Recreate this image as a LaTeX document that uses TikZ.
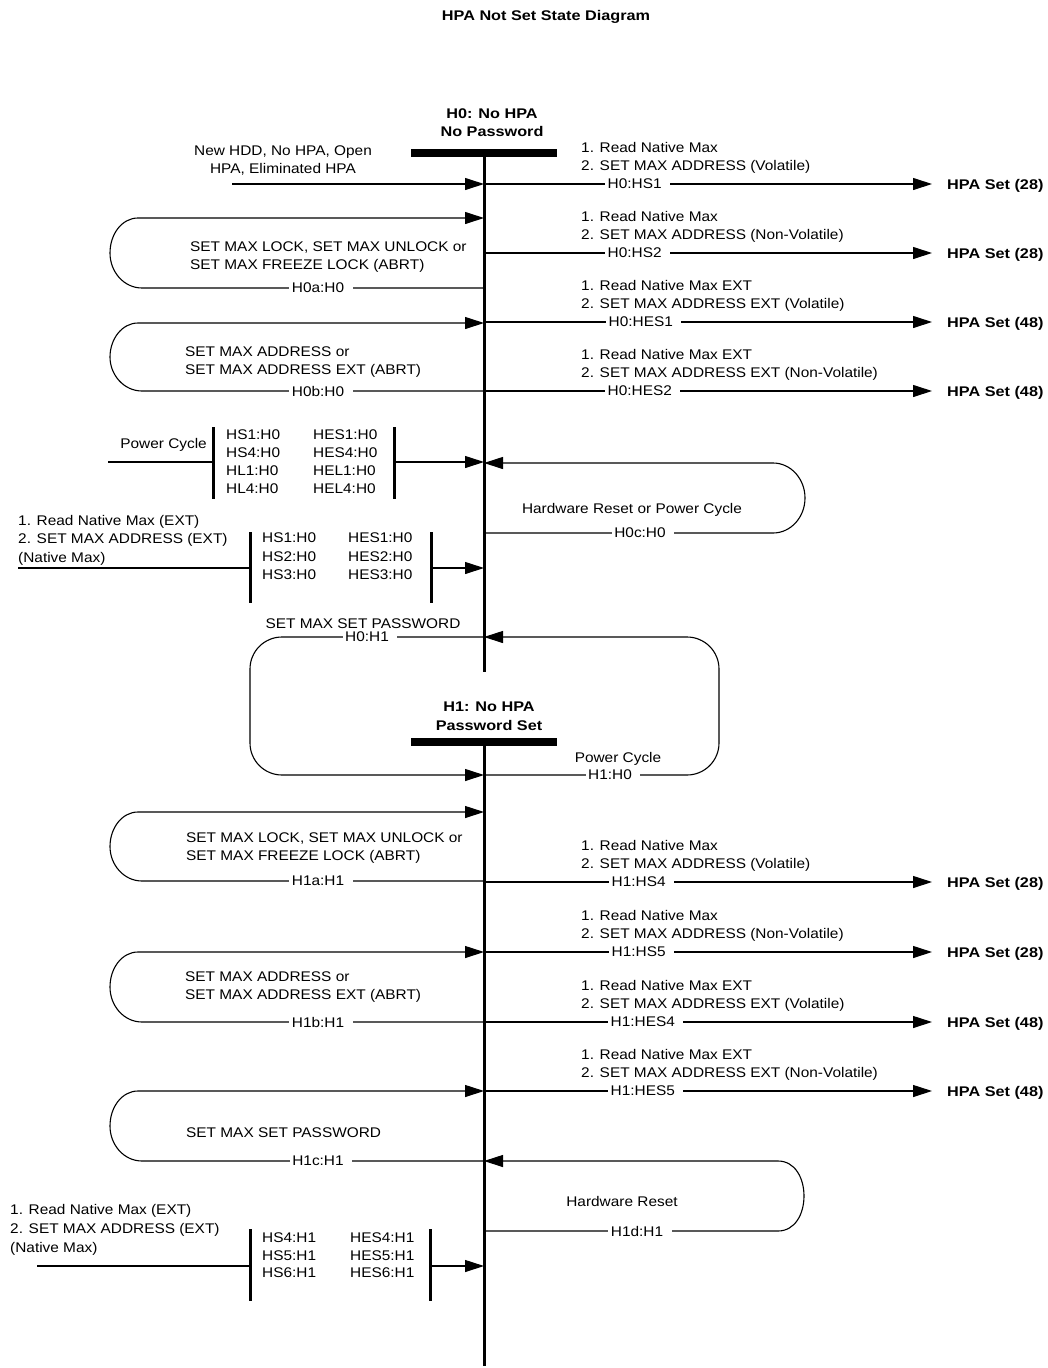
\documentclass[tikz,border=0pt]{standalone}
\usepackage{fontspec}
\setmainfont{Liberation Sans}[FakeStretch=1.1]
\newfontfamily\boldfam{Liberation Sans}[FakeStretch=1.16]
\usetikzlibrary{arrows.meta}
\tikzset{
  txt/.style={font=\fontsize{14}{18}\selectfont, inner sep=0pt},
  bld/.style={font=\boldfam\bfseries\fontsize{14}{18}\selectfont, inner sep=0pt},
  lbl/.style={font=\fontsize{14}{18}\selectfont, fill=white, inner xsep=2.5pt, inner ysep=1pt},
  conn/.style={line width=1.1pt},
  arr/.style={conn, -{Triangle[length=19pt,width=12pt]}},
  mainln/.style={line width=3pt},
  barln/.style={line width=3pt},
  statebar/.style={fill=black, minimum width=146pt, minimum height=8pt, inner sep=0pt},
}
\newcommand{\tgap}{\kern6pt\relax}
\begin{document}
\begin{tikzpicture}[x=1pt,y=-1pt]
\useasboundingbox (0,0) rectangle (1048,1368);

% title
\node[bld, anchor=base] (title) at (546,20) {HPA Not Set State Diagram};

% states
\node[statebar] (h0) at (484,153) {};
\node[bld, align=center, anchor=north] (h0lab) at (492,109) {H0: No HPA\\No Password};
\coordinate (h0end) at (484,672);
\draw[mainln] (h0.south) -- (h0end);

\node[statebar] (h1) at (484,742) {};
\node[bld, align=center, anchor=north] (h1lab) at (489,702) {H1: No HPA\\[1pt]Password Set};
\coordinate (h1end) at (484,1366);
\draw[mainln] (h1.south) -- (h1end);

% incoming
\node[txt, align=center, anchor=north] (newt) at (283,146) {New HDD, No HPA, Open\\HPA, Eliminated HPA};
\coordinate (in0) at (232,184);
\coordinate (m184) at (484,184);
\draw[arr] (in0) -- (m184);

% right side transitions
\foreach \y/\n/\a/\b/\l/\h/\lx in {
  184/ra/{1. Read Native Max}/{2. SET MAX ADDRESS (Volatile)}/{H0:HS1}/{HPA Set (28)}/605,
  253/rb/{1. Read Native Max}/{2. SET MAX ADDRESS (Non-Volatile)}/{H0:HS2}/{HPA Set (28)}/605,
  322/rc/{1. Read Native Max EXT}/{2. SET MAX ADDRESS EXT (Volatile)}/{H0:HES1}/{HPA Set (48)}/606,
  391/rd/{1. Read Native Max EXT}/{2. SET MAX ADDRESS EXT (Non-Volatile)}/{H0:HES2}/{HPA Set (48)}/605,
  882/re/{1. Read Native Max}/{2. SET MAX ADDRESS (Volatile)}/{H1:HS4}/{HPA Set (28)}/609,
  952/rf/{1. Read Native Max}/{2. SET MAX ADDRESS (Non-Volatile)}/{H1:HS5}/{HPA Set (28)}/609,
  1022/rg/{1. Read Native Max EXT}/{2. SET MAX ADDRESS EXT (Volatile)}/{H1:HES4}/{HPA Set (48)}/608,
  1091/rh/{1. Read Native Max EXT}/{2. SET MAX ADDRESS EXT (Non-Volatile)}/{H1:HES5}/{HPA Set (48)}/608}
{
  \coordinate (\n s) at (484,\y);
  \coordinate (\n e) at (932,\y);
  \node[txt, anchor=north west, align=left] (\n t) at (581,\y-42) {\a\\\b};
  \draw[arr] (\n s) -- (\n e);
  \node[lbl, anchor=west] (\n l) at (\lx,\y) {\l\tgap};
  \node[bld, anchor=west] (\n h) at (947,\y+1.5) {\h};
}

% left self loops
\foreach \t/\bb/\n/\tx/\ty/\txt/\l in {
  218/288/la/190/242/{SET MAX LOCK, SET MAX UNLOCK or\\SET MAX FREEZE LOCK (ABRT)}/{H0a:H0},
  323/391/lb/185/347/{SET MAX ADDRESS or\\SET MAX ADDRESS EXT (ABRT)}/{H0b:H0},
  812/881/lc/186/833/{SET MAX LOCK, SET MAX UNLOCK or\\SET MAX FREEZE LOCK (ABRT)}/{H1a:H1},
  952/1022/ld/185/972/{SET MAX ADDRESS or\\SET MAX ADDRESS EXT (ABRT)}/{H1b:H1},
  1091/1161/le/186/1128/{SET MAX SET PASSWORD}/{H1c:H1}}
{
  \coordinate (\n a) at (484,\bb);
  \coordinate (\n b) at (484,\t);
  \draw[arr] (\n a) -- (142,\bb) .. controls (124,\bb) and (110,\bb-16) .. (110,{(\t+\bb)/2})
     .. controls (110,\t+16) and (122,\t) .. (138,\t) -- (\n b);
  \node[txt, anchor=north west, align=left] (\n t) at (\tx,\ty) {\txt};
  \node[lbl] (\n l) at (321,\bb) {\l\tgap};
}

% right self loops
\coordinate (c0a) at (484,533);
\coordinate (c0b) at (484,463);
\draw[arr] (c0a) -- (773,533) .. controls (791,533) and (805,517) .. (805,498)
   .. controls (805,479) and (791,463) .. (773,463) -- (c0b);
\node[txt, anchor=base] (c0t) at (632,513) {Hardware Reset or Power Cycle};
\node[lbl] (c0l) at (643,533) {H0c:H0\tgap};

\coordinate (c1a) at (484,1231);
\coordinate (c1b) at (484,1161);
\draw[arr] (c1a) -- (778,1231) .. controls (795,1231) and (804,1214) .. (804,1196)
   .. controls (804,1178) and (795,1161) .. (778,1161) -- (c1b);
\node[txt, anchor=base] (c1t) at (622,1206) {Hardware Reset};
\node[lbl] (c1l) at (640,1231) {H1d:H1\tgap};

% H0 <-> H1 loop
\coordinate (pa) at (484,637);
\coordinate (pb) at (484,775);
\draw[arr, rounded corners=32pt] (pa) -- (250,637) -- (250,775) -- (pb);
\draw[arr, rounded corners=32pt] (pb) -- (719,775) -- (719,637) -- (pa);
\node[txt, anchor=base] (pat) at (363,628) {SET MAX SET PASSWORD};
\node[lbl] (pal) at (370,637) {H0:H1\tgap};
\node[txt, anchor=base] (pbt) at (618,762) {Power Cycle};
\node[lbl] (pbl) at (613,775) {H1:H0\tgap};

% power cycle block
\node[txt, anchor=base east] (pct) at (207,448) {Power Cycle};
\coordinate (pcs) at (108,462);
\coordinate (pcb1t) at (213,427);
\coordinate (pcb1b) at (213,499);
\coordinate (pcb1) at (213,462);
\coordinate (pcb2t) at (394,427);
\coordinate (pcb2b) at (394,499);
\coordinate (pcb2) at (394,462);
\coordinate (m462) at (484,462);
\draw[barln] (pcb1t) -- (pcb1b);
\draw[barln] (pcb2t) -- (pcb2b);
\draw[conn] (pcs) -- (pcb1);
\draw[arr] (pcb2) -- (m462);
\node[txt, anchor=north west, align=left, font=\fontsize{14}{17.7}\selectfont] (pcc1) at (226,430) {HS1:H0\\HS4:H0\\HL1:H0\\HL4:H0};
\node[txt, anchor=north west, align=left, font=\fontsize{14}{17.7}\selectfont] (pcc2) at (313,430) {HES1:H0\\HES4:H0\\HEL1:H0\\HEL4:H0};

% native max block H0
\node[txt, anchor=north west, align=left, font=\fontsize{14}{18.5}\selectfont] (nm0t) at (18,515) {1. Read Native Max (EXT)\\2. SET MAX ADDRESS (EXT)\\(Native Max)};
\coordinate (nm0s) at (18,568);
\coordinate (nm0b1t) at (250,532);
\coordinate (nm0b1b) at (250,603);
\coordinate (nm0b1) at (250,568);
\coordinate (nm0b2t) at (431,532);
\coordinate (nm0b2b) at (431,603);
\coordinate (nm0b2) at (431,568);
\coordinate (m568) at (484,568);
\draw[barln] (nm0b1t) -- (nm0b1b);
\draw[barln] (nm0b2t) -- (nm0b2b);
\draw[conn] (nm0s) -- (nm0b1);
\draw[arr] (nm0b2) -- (m568);
\node[txt, anchor=north west, align=left, font=\fontsize{14}{18.5}\selectfont] (nm0c1) at (262,533) {HS1:H0\\HS2:H0\\HS3:H0};
\node[txt, anchor=north west, align=left, font=\fontsize{14}{18.5}\selectfont] (nm0c2) at (348,533) {HES1:H0\\HES2:H0\\HES3:H0};

% native max block H1
\node[txt, anchor=north west, align=left, font=\fontsize{14}{19}\selectfont] (nm1t) at (10,1204) {1. Read Native Max (EXT)\\2. SET MAX ADDRESS (EXT)\\(Native Max)};
\coordinate (nm1s) at (37,1266);
\coordinate (nm1b1t) at (250,1229);
\coordinate (nm1b1b) at (250,1301);
\coordinate (nm1b1) at (250,1266);
\coordinate (nm1b2t) at (430,1229);
\coordinate (nm1b2b) at (430,1301);
\coordinate (nm1b2) at (430,1266);
\coordinate (m1266) at (484,1266);
\draw[barln] (nm1b1t) -- (nm1b1b);
\draw[barln] (nm1b2t) -- (nm1b2b);
\draw[conn] (nm1s) -- (nm1b1);
\draw[arr] (nm1b2) -- (m1266);
\node[txt, anchor=north west, align=left, font=\fontsize{14}{17.5}\selectfont] (nm1c1) at (262,1233) {HS4:H1\\HS5:H1\\HS6:H1};
\node[txt, anchor=north west, align=left, font=\fontsize{14}{17.5}\selectfont] (nm1c2) at (350,1233) {HES4:H1\\HES5:H1\\HES6:H1};

\end{tikzpicture}
\end{document}
